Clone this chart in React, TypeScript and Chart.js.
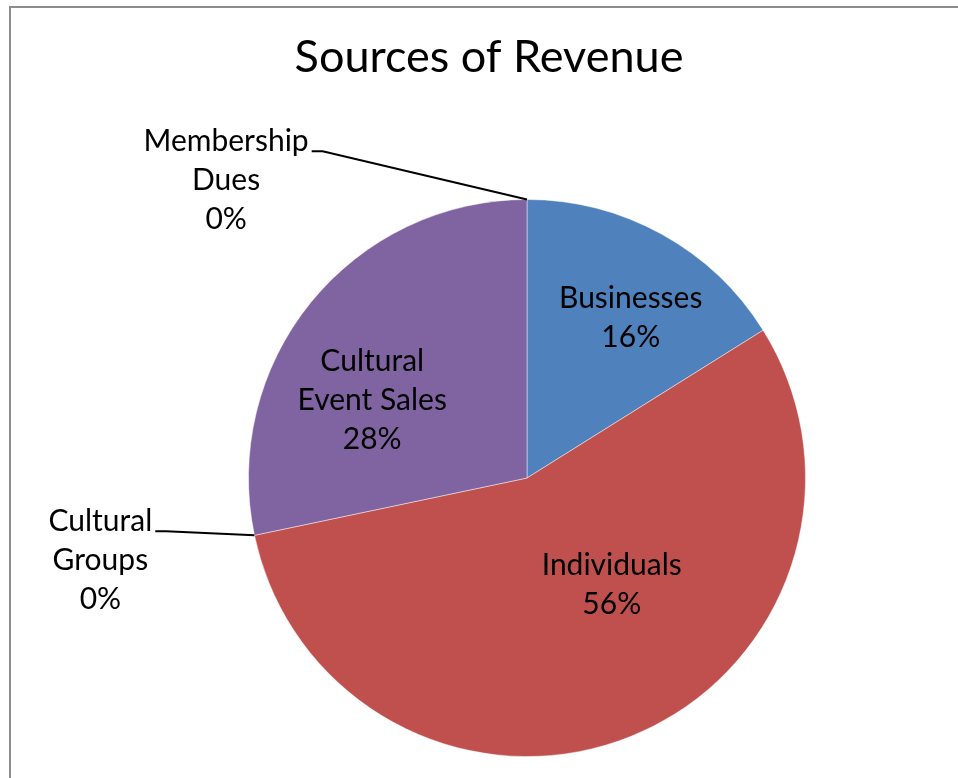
import React, { useEffect, useRef } from "react";
import { Chart, registerables } from "chart.js";

Chart.register(...registerables);

const TITLE = "Sources of Revenue";
const categories = ["Businesses", "Individuals", "Cultural Groups", "Cultural Event Sales", "Membership Dues"];
const shares = [16.1, 55.6, 0, 28.3, 0];
const labelLines = [["Businesses"], ["Individuals"], ["Cultural", "Groups"], ["Cultural", "Event Sales"], ["Membership", "Dues"]];

const COLORS = ["#4F81BD", "#C0504D", "#9BBB59", "#8064A2", "#4BACC6"];
// label placement: [clock angle in degrees, distance as fraction of radius, outside?]
const PLACEMENT: [number, number, boolean][] = [
  [33.0, 0.684, false],
  [141.7, 0.491, false],
  [259.1, 1.56, true],
  [296.7, 0.622, false],
  [314.7, 1.52, true],
];

const FONT_FAMILY = "Lato, 'Open Sans', sans-serif";
const LABEL_SIZE = 30;
const LINE_H = 39;

const overlay = {
  id: "overlay",
  afterDraw(chart: any) {
    const ctx = chart.ctx as CanvasRenderingContext2D;
    ctx.save();
    // frame
    ctx.fillStyle = "#8c8c8c";
    ctx.fillRect(9, 6, 960, 2);
    ctx.fillRect(9, 6, 2, 780);
    // title
    ctx.fillStyle = "#000";
    ctx.font = `45px ${FONT_FAMILY}`;
    ctx.textAlign = "center";
    ctx.textBaseline = "middle";
    ctx.fillText(TITLE, 489, 57);

    const meta = chart.getDatasetMeta(0);
    const total = shares.reduce((a, b) => a + b, 0);
    ctx.font = `${LABEL_SIZE}px ${FONT_FAMILY}`;
    meta.data.forEach((arc: any, i: number) => {
      const p = arc.getProps(["x", "y", "outerRadius", "startAngle", "endAngle"], true);
      const [deg, fr, outside] = PLACEMENT[i];
      const a = (deg - 90) * Math.PI / 180;
      const cx = p.x + Math.cos(a) * p.outerRadius * fr;
      const cy = p.y + Math.sin(a) * p.outerRadius * fr;
      const pct = Math.round((shares[i] / total) * 100) + "%";
      const lines = [...labelLines[i], pct];
      const top = cy - ((lines.length - 1) * LINE_H) / 2;
      ctx.fillStyle = "#000";
      lines.forEach((t, k) => ctx.fillText(t, cx, top + k * LINE_H));
      if (outside) {
        const w = ctx.measureText(lines[0]).width;
        const sx = cx + w / 2 + 3;
        const sy = top + 10;
        const mid = (p.startAngle + p.endAngle) / 2;
        const ex = p.x + Math.cos(mid) * p.outerRadius;
        const ey = p.y + Math.sin(mid) * p.outerRadius;
        ctx.strokeStyle = "#000";
        ctx.lineWidth = 2;
        ctx.beginPath();
        ctx.moveTo(sx, sy);
        ctx.lineTo(sx + 11, sy);
        ctx.lineTo(ex, ey);
        ctx.stroke();
      }
    });
    ctx.restore();
  },
};

export default function App() {
  const ref = useRef<HTMLCanvasElement>(null);
  useEffect(() => {
    const chart = new Chart(ref.current!, {
      type: "pie",
      data: {
        labels: categories,
        datasets: [
          {
            data: shares,
            backgroundColor: COLORS,
            borderColor: "rgba(255,255,255,0.45)",
            borderWidth: 1,
          },
        ],
      },
      options: {
        responsive: false,
        animation: false,
        layout: { padding: { left: 248, right: 152, top: 199, bottom: 21 } },
        plugins: { legend: { display: false }, tooltip: { enabled: false }, title: { display: false } },
      },
      plugins: [overlay],
    });
    return () => chart.destroy();
  }, []);
  return (
    <div style={{ position: "fixed", left: 0, top: 0, width: 958, height: 778, background: "#fff" }}>
      <canvas ref={ref} width={958} height={778} style={{ display: "block" }} />
    </div>
  );
}
